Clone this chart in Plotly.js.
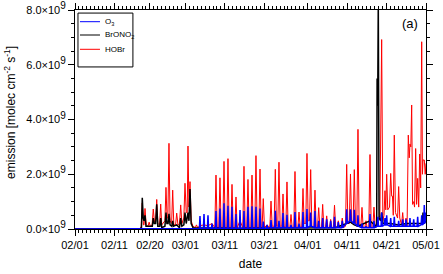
<!DOCTYPE html>
<html>
<head>
<meta charset="utf-8">
<script src="https://cdn.plot.ly/plotly-3.0.1.min.js"></script>
<style>html,body{margin:0;padding:0;background:#fff;}#chart{width:443px;height:274px;}</style>
</head>
<body>
<div id="chart"></div>
<script>
// time in days since 02/01, values in units of 1e9 molec cm-2 s-1
const hobrT = [0,16.5,16.8,17.06,17.35,17.5,17.75,18.05,18.5,18.8,19.1,19.55,19.85,20.15,20.45,20.72,21.0,21.45,21.73,22.0,22.8,23.07,23.35,23.55,23.83,24.1,24.5,24.77,25.05,25.5,25.79,26.1,26.5,26.8,27.1,27.6,27.89,28.2,28.45,28.65,28.9,29.16,29.45,29.9,30.5,30.8,31.1,31.7,32.7,33.7,34.74,35.45,35.75,36.05,36.46,36.76,37.06,37.48,37.78,38.08,38.49,38.79,39.09,39.51,39.81,40.11,40.52,40.82,41.12,41.84,42.55,42.85,43.15,43.56,43.86,44.16,44.58,44.88,45.18,45.59,45.89,46.19,46.61,46.91,47.21,47.44,47.74,48.04,48.68,49.4,49.7,50.0,50.49,50.79,51.09,51.42,51.72,52.02,52.44,52.74,53.04,53.45,53.75,54.05,54.47,54.77,55.07,55.48,55.78,56.08,56.5,56.8,57.1,57.51,57.81,58.11,58.52,58.82,59.12,59.46,59.76,60.06,60.55,60.85,61.15,61.49,61.79,62.09,62.5,62.8,63.1,63.52,63.82,64.12,64.53,64.83,65.13,65.5,65.8,66.1,66.46,66.76,67.06,67.47,67.77,68.07,68.59,68.89,69.19,69.55,69.85,70.15,70.52,70.82,71.12,71.45,71.75,72.05,72.47,72.77,73.07,73.48,73.78,74.08,74.5,74.8,75.1,75.51,75.81,76.11,76.5,76.8,77.3,77.76,78.06,78.35,78.6,78.8,79.03,79.3,79.75,80.05,80.3,80.5,80.7,80.96,81.25,81.8,82.07,82.35,82.8,83.09,83.35,83.7,83.93,84.2,84.51,84.75,84.94,85.15,85.37,85.6,85.88,86.1,86.38,86.62,86.89,87.15,87.4,87.65,87.91,88.1,88.24,88.57,88.8,89];
const hobrV = [0,0,0.1,0.95,0.15,0.15,0.75,0.15,0.1,0.25,0.1,0.15,0.73,0.25,0.25,1.08,0.2,0.15,0.91,0.15,0.3,1.52,0.4,0.4,3.13,0.3,0.2,1.42,0.15,0.15,0.58,0.15,0.2,0.88,0.2,0.4,1.67,0.6,0.6,3.03,0.8,1.73,0.3,0.1,0.05,0.15,0.05,0.12,0.15,0.12,0.2,0.05,1.97,0.05,0.05,1.87,0.05,0.05,2.47,0.05,0.05,2.57,0.05,0.05,1.63,0.05,0.05,1.17,0.05,0.3,0.05,2.29,0.05,0.05,1.81,0.05,0.05,1.97,0.05,0.05,2.68,0.05,0.05,2.19,0.05,0.05,1.11,0.05,0.15,0.05,1.02,0.1,0.1,2.18,0.1,0.1,2.44,0.1,0.1,1.28,0.1,0.05,1.72,0.05,0.05,0.53,0.05,0.05,2.1,0.05,0.05,0.62,0.05,0.1,1.48,0.2,0.2,2.76,0.3,0.3,2.17,0.1,0.05,1.42,0.05,0.05,0.78,0.05,0.05,0.9,0.05,0.05,0.48,0.05,0.05,0.35,0.05,0.05,0.87,0.05,0.05,0.3,0.05,0.05,0.4,0.05,0.1,2.36,0.2,0.2,2.01,0.2,0.2,2.17,0.2,0.1,3.64,0.1,0.05,0.79,0.05,0.05,0.3,0.05,0.05,2.72,0.05,0.05,0.8,0.05,0.1,0.3,0.5,6.92,0.3,0.5,1.4,0.7,2.0,0.7,0.8,2.03,1.2,1.2,0.5,3.43,0.6,0.4,1.55,0.4,0.15,0.6,0.15,0.1,0.4,0.1,3.43,2.6,3.1,3.0,4.53,0.9,1.0,0.8,2.94,0.9,1.85,0.8,2.74,1.5,6.84,2.0,2.52,2.52,2.0,2.4];

const brono2T = [0,16.5,16.85,17.06,17.3,17.5,17.75,18.0,19.6,19.85,20.1,20.45,20.72,21.0,21.5,21.73,22.0,22.8,23.07,23.3,23.6,23.83,24.1,24.55,24.77,25.0,25.79,26.5,26.8,27.1,27.6,27.89,28.2,28.65,28.9,29.16,29.45,29.9,40.0,50.0,60.0,66.0,68.89,69.85,70.82,71.75,74.8,76.3,76.5,76.6,76.75,76.9,77.1,77.5,77.76,78.1,80.0,82.0,84.0,86.0,88.1,88.24,88.5,89];
const brono2V = [0,0,0.05,1.14,0.4,0.3,0.5,0.1,0.1,0.4,0.2,0.2,0.9,0.1,0.1,0.4,0.05,0.1,0.6,0.2,0.2,0.55,0.15,0.1,0.3,0.1,0.15,0.05,0.4,0.1,0.15,0.6,0.2,0.6,0.3,1.46,0.2,0.05,0.03,0.03,0.03,0.05,0.2,0.25,0.15,0.1,0.3,0.1,0.2,5.5,4.5,8.3,0.4,0.3,0.6,0.2,0.2,0.15,0.2,0.2,0.2,0.6,0.2,0.3];

// O3: times of the daily spikes, spike heights and the level between spikes
const o3PeakT = [31.69,32.71,33.72,34.74,35.75,36.76,37.78,38.79,39.81,40.82,41.84,42.85,43.86,44.88,45.89,46.91,47.74,48.68,49.7,50.79,51.72,52.74,53.75,54.77,55.78,56.8,57.81,58.82,59.76,60.85,61.79,62.8,63.82,64.83,65.8,66.76,67.77,68.89,69.85,70.82,71.75,72.77,73.78,74.8,75.81,76.8,77.76,78.6,79.03,80.05,80.96,82.07,83.09,83.93,84.94,85.88,86.89,87.91,88.57];
const o3PeakV = [0.47,0.55,0.5,0.2,0.66,0.75,0.94,0.85,0.81,0.55,0.69,0.66,0.81,0.83,0.81,0.75,0.27,0.15,0.33,0.67,0.3,0.58,0.52,0.15,0.62,0.2,0.62,0.73,0.6,0.66,0.3,0.4,0.35,0.3,0.45,0.25,0.3,0.72,0.72,0.7,0.5,0.2,0.1,0.55,0.3,0.45,0.6,0.4,0.5,0.4,0.45,0.3,0.35,0.35,0.4,0.35,0.45,0.5,0.88];
const o3BaseV = [0.02,0.02,0.02,0.02,0.02,0.02,0.02,0.02,0.02,0.02,0.02,0.02,0.02,0.02,0.02,0.02,0.02,0.02,0.05,0.05,0.05,0.05,0.05,0.05,0.05,0.05,0.05,0.05,0.1,0.05,0.05,0.05,0.05,0.05,0.05,0.05,0.05,0.2,0.3,0.2,0.1,0.05,0.05,0.05,0.05,0.1,0.1,0.15,0.15,0.1,0.1,0.1,0.1,0.1,0.1,0.1,0.1,0.15,0.2];
const o3EndV = 0.6;

const xTickVals = [0,10,19,28,38,48,59,69,79,89];
const xTickText = ['02/01','02/11','02/20','03/01','03/11','03/21','04/01','04/11','04/21','05/01'];
const yTickVals = [0,2,4,6,8];
const yTickMant = ['0.0','2.0','4.0','6.0','8.0'];
const yTickText = yTickMant.map(m => m + '×10<sup><span style="font-size:10px">9</span></sup>');

// build O3 line: narrow spike around each peak time
const spikeHalf = 0.15;
const o3X = [0, o3PeakT[0] - 1], o3Y = [0, 0];
o3PeakT.forEach((t, i) => {
  o3X.push(t - spikeHalf, t, t + spikeHalf);
  o3Y.push(o3BaseV[i], o3PeakV[i], o3BaseV[i]);
});
o3X.push(89); o3Y.push(o3EndV);

const traces = [
  {x: hobrT, y: hobrV, name: 'HOBr', type: 'scatter', mode: 'lines', line: {color: '#ff0000', width: 1}},
  {x: brono2T, y: brono2V, name: 'BrONO2', type: 'scatter', mode: 'lines', line: {color: '#000000', width: 1.5}},
  {x: o3X, y: o3Y, name: 'O3', type: 'scatter', mode: 'lines', line: {color: '#0000ff', width: 1.5}}
];

// legend entries (drawn as a framed box like the original)
const legendNames = ['O<sub>3</sub>', 'BrONO<sub>2</sub>', 'HOBr'];
const legendColors = ['#0000ff', '#000000', '#ff0000'];
const legendRowY = [0.9466, 0.8858, 0.8205];

const shapes = [{type: 'rect', xref: 'paper', yref: 'paper', x0: 0.0085, x1: 0.165, y0: 0.740, y1: 0.986,
  line: {color: '#000', width: 1}, fillcolor: '#fff', layer: 'above'}];
const annotations = [];
legendNames.forEach((n, i) => {
  shapes.push({type: 'line', xref: 'paper', yref: 'paper', x0: 0.0142, x1: 0.0712, y0: legendRowY[i], y1: legendRowY[i],
    line: {color: legendColors[i], width: 1}, layer: 'above'});
  annotations.push({text: n, xref: 'paper', yref: 'paper', x: 0.0798, y: legendRowY[i], xanchor: 'left', yanchor: 'middle',
    showarrow: false, font: {size: 8, color: '#000'}});
});
annotations.push({text: '(a)', xref: 'paper', yref: 'paper', x: 0.984, y: 0.98,
  xanchor: 'right', yanchor: 'top', showarrow: false, font: {size: 13, color: '#000'}});
annotations.push({text: 'emission [molec cm<sup>-2</sup> s<sup>-1</sup>]', xref: 'paper', yref: 'paper',
  x: 0, xshift: -65, y: 0.53, xanchor: 'center', yanchor: 'middle', textangle: -90, showarrow: false,
  font: {size: 12, color: '#000'}});

const axisCommon = {
  showline: true, linecolor: '#000', linewidth: 1, mirror: 'ticks',
  ticks: 'outside', ticklen: 6, tickwidth: 1, tickcolor: '#000',
  showgrid: false, zeroline: false,
  tickfont: {family: 'Liberation Sans, Arial, sans-serif', size: 11, color: '#000'}
};

const layout = {
  width: 443, height: 274,
  margin: {l: 75, r: 17, t: 10, b: 45},
  paper_bgcolor: '#fff', plot_bgcolor: '#fff',
  font: {family: 'Liberation Sans, Arial, sans-serif', color: '#000'},
  showlegend: false,
  xaxis: Object.assign({}, axisCommon, {
    range: [0, 89], tickmode: 'array', tickvals: xTickVals, ticktext: xTickText,
    minor: {dtick: 1, tick0: 0, ticks: 'outside', ticklen: 3, tickcolor: '#000', tickwidth: 1},
    title: {text: 'date', font: {size: 12, color: '#000'}, standoff: 9}
  }),
  yaxis: Object.assign({}, axisCommon, {
    range: [0, 8], tickmode: 'array', tickvals: yTickVals, ticktext: yTickText,
    minor: {dtick: 0.5, tick0: 0, ticks: 'outside', ticklen: 3, tickcolor: '#000', tickwidth: 1}
  }),
  shapes: shapes,
  annotations: annotations
};

Plotly.newPlot('chart', traces, layout, {displayModeBar: false, staticPlot: true});
</script>
</body>
</html>
